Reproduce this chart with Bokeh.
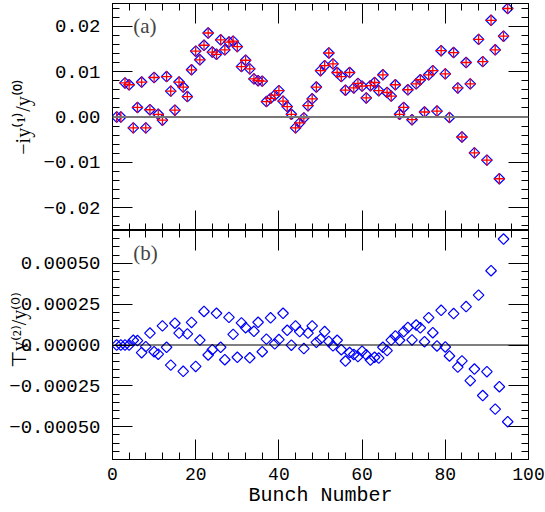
import numpy as np
from bokeh.plotting import figure
from bokeh.models import (LinearAxis, FixedTicker, CustomJSTickFormatter, Span,
                          Label, Range1d, ColumnDataSource)
from bokeh.layouts import column
from bokeh.embed import file_html
from bokeh.resources import INLINE

# ---------------- data ----------------
bunch = list(range(1, 96))

ratio_1 = [
    0.0000, 0.0000, 0.0075, 0.0071, -0.0024, 0.0021, 0.0077, -0.0024, 0.0016, 0.0087,
    0.0006, -0.0007, 0.0089, 0.0057, 0.0015, 0.0077, 0.0066, 0.0045, 0.0104, 0.0145,
    0.0126, 0.0158, 0.0185, 0.0143, 0.0138, 0.0170, 0.0148, 0.0165, 0.0167, 0.0155,
    0.0111, 0.0125, 0.0106, 0.0084, 0.0080, 0.0079, 0.0034, 0.0041, 0.0048, 0.0058,
    0.0035, 0.0023, 0.0006, -0.0024, -0.0013, -0.0002, 0.0025, 0.0040, 0.0066, 0.0102,
    0.0113, 0.0141, 0.0117, 0.0098, 0.0089, 0.0059, 0.0098, 0.0064, 0.0074, 0.0068,
    0.0042, 0.0069, 0.0076, 0.0058, 0.0093, 0.0054, 0.0046, 0.0071, 0.0006, 0.0021,
    0.0060, -0.0006, 0.0073, 0.0082, 0.0011, 0.0093, 0.0102, 0.0013, 0.0146, 0.0095,
    -0.0001, 0.0142, 0.0064, -0.0044, 0.0120, 0.0073, -0.0079, 0.0171, 0.0122, -0.0095,
    0.0213, 0.0148, -0.0136, 0.0178, 0.0239,
]

ratio_2 = [
    0.0, 0.0, 0.0, 0.0, 0.000029, 0.000027, -0.000047, -0.000010, 0.000073, -0.000041,
    -0.000056, 0.000117, -0.000014, -0.000123, 0.000133, 0.000073, -0.000161, 0.000068, 0.000138, -0.000131,
    0.000030, 0.000205, -0.000061, -0.000029, 0.000194, -0.000014, -0.000090, 0.000169, 0.000065, -0.000075,
    0.000135, 0.000106, -0.000078, 0.000084, 0.000139, -0.000041, 0.000036, 0.000166, 0.000007, 0.000033,
    0.000194, 0.000090, -0.000001, 0.000117, 0.000082, -0.000022, 0.000073, 0.000117, 0.000016, 0.000036,
    0.000082, 0.000022, -0.000005, 0.000029, -0.000029, -0.000098, -0.000046, -0.000058, -0.000071, -0.000038,
    -0.000060, -0.000092, -0.000075, -0.000080, -0.000014, -0.000034, 0.000030, 0.000055, 0.000029, 0.000082,
    0.000107, 0.000031, 0.000122, 0.000105, 0.000020, 0.000167, 0.000075, -0.000006, 0.000212, -0.000012,
    -0.000067, 0.000192, -0.000135, -0.000097, 0.000235, -0.000218, -0.000147, 0.000305, -0.000309, -0.000163,
    0.000454, -0.000392, -0.000255, 0.000648, -0.000469,
]

x_major = [0, 20, 40, 60, 80, 100]
x_minor = list(range(0, 101, 4))
top_major = [-0.02, -0.01, 0.0, 0.01, 0.02]
top_minor = [round(i * 0.002, 4) for i in range(-12, 13)]
bot_major = [-0.0005, -0.00025, 0.0, 0.00025, 0.0005]
bot_minor = [round(i * 0.00005, 6) for i in range(-14, 15)]

panel_tags = ["(a)", "(b)"]
y_labels = ["\u2212iy\u207d\u00b9\u207e/y\u207d\u2070\u207e",
            "\u00a0" * 6 + "\u22a4y\u207d\u00b2\u207e/y\u207d\u2070\u207e"]
x_label = "Bunch Number"

src1 = ColumnDataSource(dict(x=bunch, y=ratio_1))
src2 = ColumnDataSource(dict(x=bunch, y=ratio_2))

TICK_FONT = "Liberation Mono"
LABEL_FONT = "Liberation Serif"
W = 545


def fmt(digits):
    return CustomJSTickFormatter(code=(
        "var s = Math.abs(tick).toFixed(%d);" % digits +
        "return (tick < -1e-12 ? '\u2212' : '') + s;"))


def style_axis(ax, ticks, minor, labels=False, formatter=None, size="19px"):
    ax.ticker = FixedTicker(ticks=ticks, minor_ticks=minor)
    ax.major_tick_in = 20
    ax.major_tick_out = 0
    ax.minor_tick_in = 7
    ax.minor_tick_out = 0
    ax.major_tick_line_color = "black"
    ax.minor_tick_line_color = "black"
    ax.axis_line_color = "black"
    ax.axis_label = None
    if formatter is not None:
        ax.formatter = formatter
    if labels:
        ax.major_label_text_font = TICK_FONT
        ax.major_label_text_font_size = size
        ax.major_label_text_color = "black"
    else:
        ax.major_label_text_font_size = "0px"
        ax.major_label_standoff = 0


def make_fig(height, yr, border_top, border_bottom):
    p = figure(width=W, height=height, x_range=Range1d(0, 100), y_range=Range1d(*yr),
               output_backend="svg", toolbar_location=None,
               min_border_left=112, min_border_right=17,
               min_border_top=border_top, min_border_bottom=border_bottom)
    p.grid.visible = False
    p.outline_line_color = "black"
    p.background_fill_color = "white"
    p.border_fill_color = "white"
    p.add_layout(LinearAxis(), "above")
    p.add_layout(LinearAxis(), "right")
    return p


def set_ylabel(ax, text, standoff):
    ax.axis_label = text
    ax.axis_label_text_font = LABEL_FONT
    ax.axis_label_text_font_size = "20px"
    ax.axis_label_text_font_style = "normal"
    ax.axis_label_text_color = "black"
    ax.axis_label_standoff = standoff


# ---------------- top panel ----------------
p1 = make_fig(230, (-0.025, 0.025), 3, 0)
for ax in p1.below + p1.above:
    style_axis(ax, x_major, x_minor)
style_axis(p1.left[0], top_major, top_minor, labels=True, formatter=fmt(2))
p1.left[0].major_label_standoff = 12
set_ylabel(p1.left[0], y_labels[0], 6)
style_axis(p1.right[0], top_major, top_minor)

p1.add_layout(Span(location=0, dimension="width", line_color="#777777", line_width=2))
p1.scatter("x", "y", source=src1, marker="square", size=7.5, angle=np.pi / 4,
           fill_color=None, line_color="blue", line_width=1.2)
p1.scatter("x", "y", source=src1, marker="cross", size=11,
           line_color="red", line_width=1.3)
p1.add_layout(Label(x=5, y=0.0201, text=panel_tags[0], text_baseline="middle",
                    text_font=LABEL_FONT, text_font_size="21px"))

# ---------------- bottom panel ----------------
p2 = make_fig(282, (-0.0007, 0.0007), 0, 53)
style_axis(p2.above[0], x_major, x_minor)
style_axis(p2.below[0], x_major, x_minor, labels=True, size="18px")
p2.below[0].major_label_standoff = 8
p2.below[0].axis_label = x_label
p2.below[0].axis_label_text_font = TICK_FONT
p2.below[0].axis_label_text_font_size = "20px"
p2.below[0].axis_label_text_font_style = "normal"
p2.below[0].axis_label_text_color = "black"
p2.below[0].axis_label_standoff = 1
style_axis(p2.left[0], bot_major, bot_minor, labels=True, formatter=fmt(5))
p2.left[0].major_label_standoff = 12
set_ylabel(p2.left[0], y_labels[1], -24)
style_axis(p2.right[0], bot_major, bot_minor)

p2.add_layout(Span(location=0, dimension="width", line_color="black", line_width=1))
p2.scatter("x", "y", source=src2, marker="square", size=7.5, angle=np.pi / 4,
           fill_color=None, line_color="blue", line_width=1.2)
p2.add_layout(Label(x=5, y=0.00056, text=panel_tags[1], text_baseline="middle",
                    text_font=LABEL_FONT, text_font_size="21px"))

layout = column(p1, p2)
open("out.html", "w").write(file_html(layout, INLINE))
